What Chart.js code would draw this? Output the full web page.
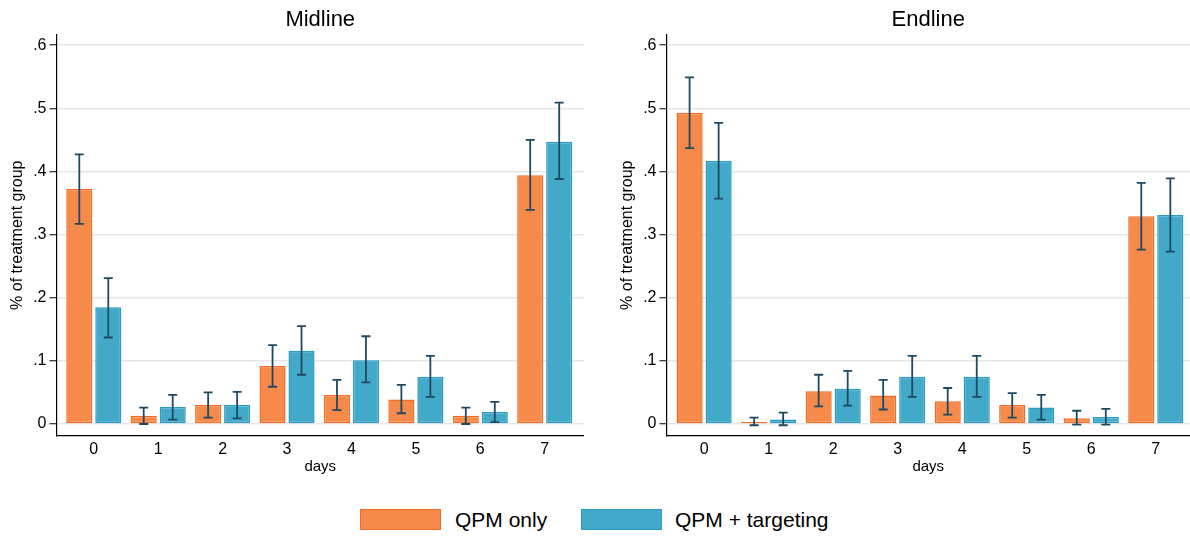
<!DOCTYPE html>
<html>
<head>
<meta charset="utf-8">
<script src="https://cdn.jsdelivr.net/npm/chart.js@4/dist/chart.umd.min.js"></script>
<style>
  html, body { margin: 0; padding: 0; background: #fff; }
  #wrap { position: relative; width: 1190px; height: 538px; overflow: hidden; background: #fff; font-family: "Liberation Sans", Arial, sans-serif; }
  canvas { position: absolute; top: 0; }
  #cLeft { left: 0; }
  #cRight { left: 610px; }
  .lg-box { position: absolute; box-sizing: border-box; width: 81px; height: 21px; top: 509px; border: 1.5px solid; }
  .lg-txt { position: absolute; top: 506px; font-size: 21px; line-height: 27px; color: #000; white-space: nowrap; }
</style>
</head>
<body>
<div id="wrap">
  <canvas id="cLeft" width="584" height="490"></canvas>
  <canvas id="cRight" width="580" height="490"></canvas>
  <div class="lg-box" id="lgBox0" style="left:360px;"></div>
  <div class="lg-txt" id="lgTxt0" style="left:455px;"></div>
  <div class="lg-box" id="lgBox1" style="left:581px;"></div>
  <div class="lg-txt" id="lgTxt1" style="left:675px;"></div>
</div>
<script>
// ---------- DATA ----------
const days = [0, 1, 2, 3, 4, 5, 6, 7];
const xTickLabels = ['0', '1', '2', '3', '4', '5', '6', '7'];
const yTickValues = [0, 0.1, 0.2, 0.3, 0.4, 0.5, 0.6];
const yTickLabels = ['0', '.1', '.2', '.3', '.4', '.5', '.6'];
const seriesNames = ['QPM only', 'QPM + targeting'];
const panelTitles = ['Midline', 'Endline'];

const midQpm    = [0.372, 0.013, 0.030, 0.092, 0.046, 0.039, 0.013, 0.394];
const midQpmLo  = [0.317, 0.000, 0.010, 0.059, 0.022, 0.017, 0.000, 0.339];
const midQpmHi  = [0.427, 0.026, 0.050, 0.125, 0.070, 0.062, 0.026, 0.450];
const midTgt    = [0.185, 0.027, 0.030, 0.116, 0.101, 0.075, 0.019, 0.447];
const midTgtLo  = [0.137, 0.007, 0.009, 0.078, 0.066, 0.043, 0.003, 0.388];
const midTgtHi  = [0.231, 0.046, 0.051, 0.155, 0.139, 0.108, 0.035, 0.509];

const endQpm    = [0.493, 0.003, 0.052, 0.045, 0.036, 0.030, 0.009, 0.329];
const endQpmLo  = [0.437, -0.002, 0.028, 0.023, 0.015, 0.010, -0.001, 0.276];
const endQpmHi  = [0.549, 0.010, 0.078, 0.070, 0.057, 0.049, 0.021, 0.382];
const endTgt    = [0.417, 0.007, 0.056, 0.075, 0.075, 0.026, 0.011, 0.331];
const endTgtLo  = [0.357, -0.002, 0.029, 0.043, 0.043, 0.007, -0.001, 0.273];
const endTgtHi  = [0.477, 0.018, 0.084, 0.108, 0.108, 0.046, 0.024, 0.389];

// ---------- STYLE ----------
const FONT = '"Liberation Sans", Arial, sans-serif';
const orangeFill = '#f58a4b';
const orangeBorder = '#f26d24';
const blueFill = '#42a9c9';
const blueBorder = '#2a9bc2';
const errColor = '#1d4a62';

const errorBarPlugin = {
  id: 'errorBars',
  afterDatasetsDraw(chart) {
    const ctx = chart.ctx;
    const yScale = chart.scales.y;
    ctx.save();
    ctx.strokeStyle = errColor;
    ctx.lineWidth = 1.8;
    chart.data.datasets.forEach((ds, i) => {
      const meta = chart.getDatasetMeta(i);
      meta.data.forEach((bar, j) => {
        const x = bar.x;
        const yLo = yScale.getPixelForValue(ds.errLo[j]);
        const yHi = yScale.getPixelForValue(ds.errHi[j]);
        const hw = 4.5;
        ctx.beginPath();
        ctx.moveTo(x, yLo); ctx.lineTo(x, yHi);
        ctx.moveTo(x - hw, yLo); ctx.lineTo(x + hw, yLo);
        ctx.moveTo(x - hw, yHi); ctx.lineTo(x + hw, yHi);
        ctx.stroke();
      });
    });
    ctx.restore();
  }
};

function toXY(vals) { return days.map((d, i) => ({ x: d, y: vals[i] })); }

function makeChart(canvasId, title, a, aLo, aHi, b, bLo, bHi, xMin, xMax) {
  return new Chart(document.getElementById(canvasId), {
    type: 'bar',
    data: {
      datasets: [
        { label: seriesNames[0], data: toXY(a), errLo: aLo, errHi: aHi,
          backgroundColor: orangeFill, borderColor: orangeBorder, borderWidth: 1.5,
          borderSkipped: false, categoryPercentage: 0.9, barPercentage: 0.9 },
        { label: seriesNames[1], data: toXY(b), errLo: bLo, errHi: bHi,
          backgroundColor: blueFill, borderColor: blueBorder, borderWidth: 1.5,
          borderSkipped: false, categoryPercentage: 0.9, barPercentage: 0.9 }
      ]
    },
    options: {
      responsive: false,
      animation: false,
      layout: { padding: 0 },
      plugins: {
        legend: { display: false },
        tooltip: { enabled: false },
        title: {
          display: true, text: title, color: '#000', fullSize: false,
          font: { family: FONT, size: 22, weight: 'normal', lineHeight: 1.2 },
          padding: { top: 7, bottom: 1 }
        }
      },
      scales: {
        x: {
          type: 'linear', min: xMin, max: xMax, offset: false,
          afterBuildTicks: s => { s.ticks = days.map(v => ({ value: v })); },
          afterFit: s => { s.height = 54; },
          grid: { display: false, drawTicks: false },
          border: { display: true, color: '#000', width: 1.2 },
          ticks: {
            color: '#000', padding: 4,
            font: { family: FONT, size: 16 },
            callback: (v) => xTickLabels[days.indexOf(v)]
          },
          title: { display: true, text: 'days', color: '#000',
            font: { family: FONT, size: 15 }, padding: { top: 0, bottom: 14 } }
        },
        y: {
          type: 'linear', min: -0.019, max: 0.617,
          afterBuildTicks: s => { s.ticks = yTickValues.map(v => ({ value: v })); },
          afterFit: s => { s.width = 56.5; },
          grid: { color: '#e6e6e6', lineWidth: 1.5, tickColor: '#000', tickLength: 7, tickWidth: 1 },
          border: { display: true, color: '#000', width: 1.2 },
          ticks: {
            color: '#000', padding: 3,
            font: { family: FONT, size: 16 },
            callback: (v) => yTickLabels[yTickValues.indexOf(v)]
          },
          title: { display: true, text: '% of treatment group', color: '#000',
            font: { family: FONT, size: 16 }, padding: { top: 8, bottom: 0 } }
        }
      }
    },
    plugins: [errorBarPlugin]
  });
}

makeChart('cLeft', panelTitles[0], midQpm, midQpmLo, midQpmHi, midTgt, midTgtLo, midTgtHi, -0.579, 7.61);
makeChart('cRight', panelTitles[1], endQpm, endQpmLo, endQpmHi, endTgt, endTgtLo, endTgtHi, -0.583, 7.53);

// legend (HTML)
document.getElementById('lgBox0').style.background = orangeFill;
document.getElementById('lgBox0').style.borderColor = orangeBorder;
document.getElementById('lgBox1').style.background = blueFill;
document.getElementById('lgBox1').style.borderColor = blueBorder;
document.getElementById('lgTxt0').textContent = seriesNames[0];
document.getElementById('lgTxt1').textContent = seriesNames[1];
</script>
</body>
</html>
